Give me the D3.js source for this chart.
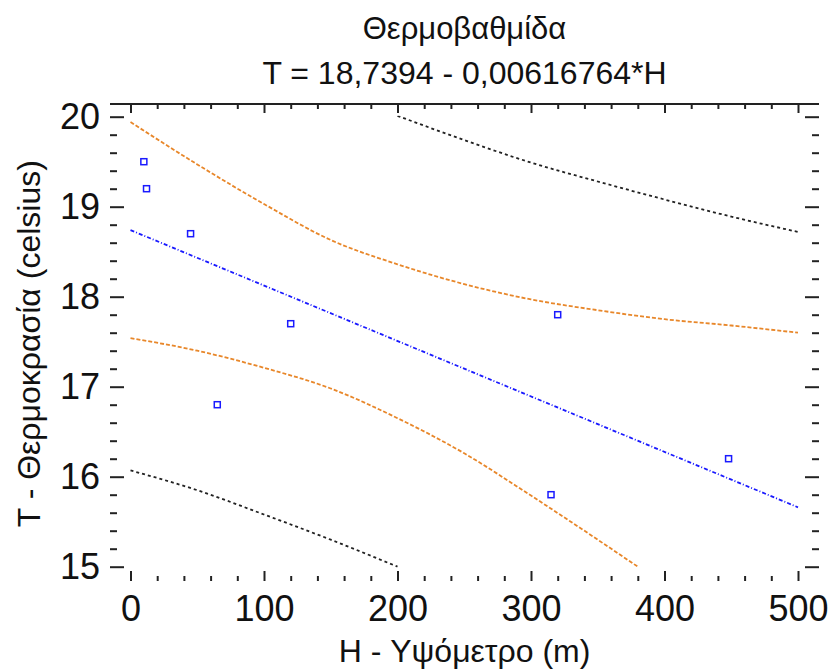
<!DOCTYPE html>
<html>
<head>
<meta charset="utf-8">
<script src="https://cdn.jsdelivr.net/npm/d3@7"></script>
<style>
  body { margin: 0; background: #fff; }
  text { font-family: "Liberation Sans", Arial, sans-serif; fill: #111; }
</style>
</head>
<body>
<svg id="chart"></svg>
<script>
// Observations: altitude (m) and temperature (celsius)
var heights = [10, 12, 45, 65, 120, 315, 320, 448];
var temps = [19.5, 19.2, 18.7, 16.8, 17.7, 15.8, 17.8, 16.2];

// Fitted line end points
var fitH = [0, 500];
var fitT = [18.74, 15.66];

// Confidence limits (orange)
var confUpperH = [0, 50, 100, 150, 200, 250, 300, 350, 400, 450, 500];
var confUpper = [19.94, 19.47, 19.03, 18.63, 18.36, 18.14, 17.97, 17.85, 17.75, 17.68, 17.60];
var confLowerH = [0, 50, 100, 150, 200, 250, 300, 350, 380];
var confLower = [17.54, 17.40, 17.21, 16.98, 16.65, 16.26, 15.79, 15.30, 15.00];

// Prediction limits (black)
var predUpperH = [200, 250, 300, 350, 400, 450, 500];
var predUpper = [20.01, 19.74, 19.49, 19.28, 19.08, 18.89, 18.72];
var predLowerH = [0, 50, 100, 150, 200];
var predLower = [16.07, 15.85, 15.58, 15.30, 15.00];

// Tick values
var xTicks = [0, 100, 200, 300, 400, 500];
var yTicks = [15, 16, 17, 18, 19, 20];

var width = 828;
var height = 670;

// Frame edges
var frameLeft = 110, frameRight = 819, frameTop = 104, frameBottom = 581;

var svg = d3.select("#chart")
    .attr("width", width)
    .attr("height", height);

var x = d3.scaleLinear().domain([0, 500]).range([130.5, 798]);
var y = d3.scaleLinear().domain([15, 20]).range([566.7, 116.7]);

var xMinor = d3.range(0, 501, 20).filter(function(v) { return v % 100 !== 0; });
var yMinor = d3.range(150, 201, 2).map(function(v) { return v / 10; })
    .filter(function(v) { return v % 1 !== 0; });

// clip curves to the 15..20 band
svg.append("clipPath").attr("id", "clip")
    .append("rect")
    .attr("x", frameLeft).attr("y", y(20) - 1)
    .attr("width", frameRight - frameLeft).attr("height", y(15) - y(20) + 2);

// Axes: ticks point inwards from each frame edge
function styleAxis(g) {
    g.select(".domain").remove();
    g.selectAll(".tick line").attr("stroke", "#222").attr("stroke-width", 2);
    g.selectAll(".tick text").style("font-size", "36px").attr("fill", "#111");
}

svg.append("g").attr("transform", "translate(" + frameLeft + ",0)")
    .call(d3.axisLeft(y).tickValues(yTicks).tickSize(-14).tickPadding(10).tickFormat(d3.format("d")))
    .call(styleAxis);
svg.append("g").attr("transform", "translate(" + frameLeft + ",0)")
    .call(d3.axisLeft(y).tickValues(yMinor).tickSize(-7).tickFormat(""))
    .call(styleAxis);

svg.append("g").attr("transform", "translate(" + frameRight + ",0)")
    .call(d3.axisRight(y).tickValues(yTicks).tickSize(-14).tickFormat(""))
    .call(styleAxis);
svg.append("g").attr("transform", "translate(" + frameRight + ",0)")
    .call(d3.axisRight(y).tickValues(yMinor).tickSize(-7).tickFormat(""))
    .call(styleAxis);

svg.append("g").attr("transform", "translate(0," + frameBottom + ")")
    .call(d3.axisBottom(x).tickValues(xTicks).tickSize(-10).tickPadding(14).tickFormat(d3.format("d")))
    .call(styleAxis);
svg.append("g").attr("transform", "translate(0," + frameBottom + ")")
    .call(d3.axisBottom(x).tickValues(xMinor).tickSize(-5).tickFormat(""))
    .call(styleAxis);

svg.append("g").attr("transform", "translate(0," + frameTop + ")")
    .call(d3.axisTop(x).tickValues(xTicks).tickSize(-9).tickFormat(""))
    .call(styleAxis);
svg.append("g").attr("transform", "translate(0," + frameTop + ")")
    .call(d3.axisTop(x).tickValues(xMinor).tickSize(-5).tickFormat(""))
    .call(styleAxis);

// top frame line
svg.append("line")
    .attr("x1", frameLeft).attr("x2", frameRight)
    .attr("y1", frameTop).attr("y2", frameTop)
    .attr("stroke", "#222").attr("stroke-width", 2);

// Curves
var line = d3.line()
    .x(function(d) { return x(d[0]); })
    .y(function(d) { return y(d[1]); })
    .curve(d3.curveMonotoneX);

var curves = [
    { h: predUpperH, t: predUpper, color: "#222", dash: "3,3" },
    { h: predLowerH, t: predLower, color: "#222", dash: "3,3" },
    { h: confUpperH, t: confUpper, color: "#e8872a", dash: "4,2" },
    { h: confLowerH, t: confLower, color: "#e8872a", dash: "4,2" },
    { h: fitH, t: fitT, color: "#1a1aff", dash: "4,2,1,2" }
];

svg.append("g").attr("clip-path", "url(#clip)")
    .selectAll("path")
    .data(curves)
    .enter().append("path")
    .attr("d", function(c) { return line(d3.zip(c.h, c.t)); })
    .attr("fill", "none")
    .attr("stroke", function(c) { return c.color; })
    .attr("stroke-width", 1.8)
    .attr("stroke-dasharray", function(c) { return c.dash; });

// Observed points as open squares
svg.append("g")
    .selectAll("rect")
    .data(d3.zip(heights, temps))
    .enter().append("rect")
    .attr("x", function(d) { return x(d[0]) - 3; })
    .attr("y", function(d) { return y(d[1]) - 3; })
    .attr("width", 6).attr("height", 6)
    .attr("fill", "none")
    .attr("stroke", "#1a1aff")
    .attr("stroke-width", 1.5);

// Titles
var cx = (frameLeft + frameRight) / 2;
svg.append("text")
    .attr("x", cx).attr("y", 39)
    .attr("text-anchor", "middle")
    .style("font-size", "31px")
    .text("Θερμοβαθμίδα");
svg.append("text")
    .attr("x", cx).attr("y", 84)
    .attr("text-anchor", "middle")
    .style("font-size", "32px")
    .text("T = 18,7394 - 0,00616764*H");

svg.append("text")
    .attr("x", cx).attr("y", 662)
    .attr("text-anchor", "middle")
    .style("font-size", "32px")
    .text("H - Υψόμετρο (m)");

svg.append("text")
    .attr("transform", "translate(40," + (y(17.5) + 2) + ") rotate(-90)")
    .attr("text-anchor", "middle")
    .style("font-size", "32px")
    .text("T - Θερμοκρασία (celsius)");
</script>
</body>
</html>
